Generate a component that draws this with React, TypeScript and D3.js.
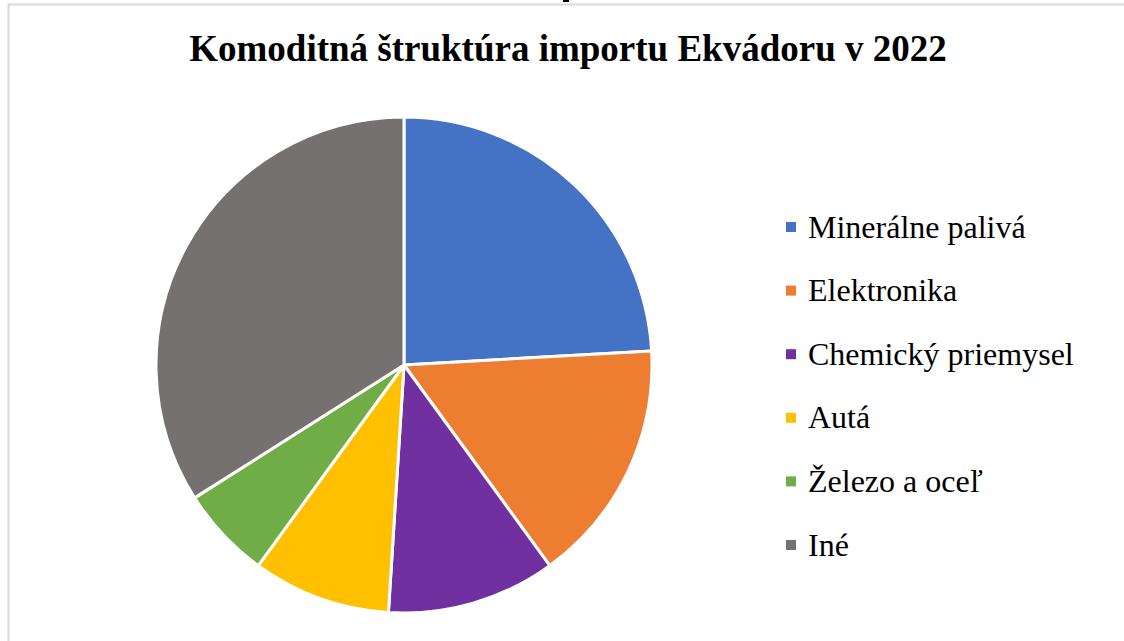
import React from "react";
import * as d3 from "d3";

const categories = ["Minerálne palivá", "Elektronika", "Chemický priemysel", "Autá", "Železo a oceľ", "Iné"];
const values = [24.1, 15.9, 11.0, 9.0, 6.0, 34.0];
const colors = ["#4472C4", "#ED7D31", "#7030A0", "#FFC000", "#70AD47", "#767171"];
const title = "Komoditná štruktúra importu Ekvádoru v 2022";

const serif = "\"Times New Roman\", \"Liberation Serif\", \"DejaVu Serif\", serif";

export default function App() {
  const W = 1124, H = 641;
  const cx = 404, cy = 365, r = 248;
  const pie = d3.pie<number>().sort(null).value((d) => d);
  const arcs = pie(values);
  const arc = d3.arc<d3.PieArcDatum<number>>().innerRadius(0).outerRadius(r);
  const legendY = d3.scaleLinear().domain([0, categories.length - 1]).range([227, 545]);
  return (
    <svg width={W} height={H} style={{ position: "absolute", left: 0, top: 0, background: "#fff" }}>
      <rect x={0} y={0} width={W} height={H} fill="#fff" />
      <rect x={8.5} y={4.5} width={W + 10} height={H + 10} fill="none" stroke="#d9d9d9" strokeWidth={2} />
      <rect x={563} y={0} width={6} height={2} fill="#000" />
      <text x={568} y={61} textAnchor="middle" style={{ fontFamily: serif, fontWeight: 700, fontSize: "37px" }} fill="#000">{title}</text>
      <g transform={`translate(${cx},${cy})`}>
        {arcs.map((a, i) => (
          <path key={i} d={arc(a) || ""} fill={colors[i]} stroke="#fff" strokeWidth={3} strokeLinejoin="round" />
        ))}
      </g>
      {categories.map((c, i) => (
        <g key={c} transform={`translate(0,${legendY(i)})`}>
          <rect x={786} y={-5} width={10} height={10} fill={colors[i]} />
          <text x={808} y={0} dy="0.33em" style={{ fontFamily: serif, fontSize: "32px" }} fill="#000">{c}</text>
        </g>
      ))}
    </svg>
  );
}
